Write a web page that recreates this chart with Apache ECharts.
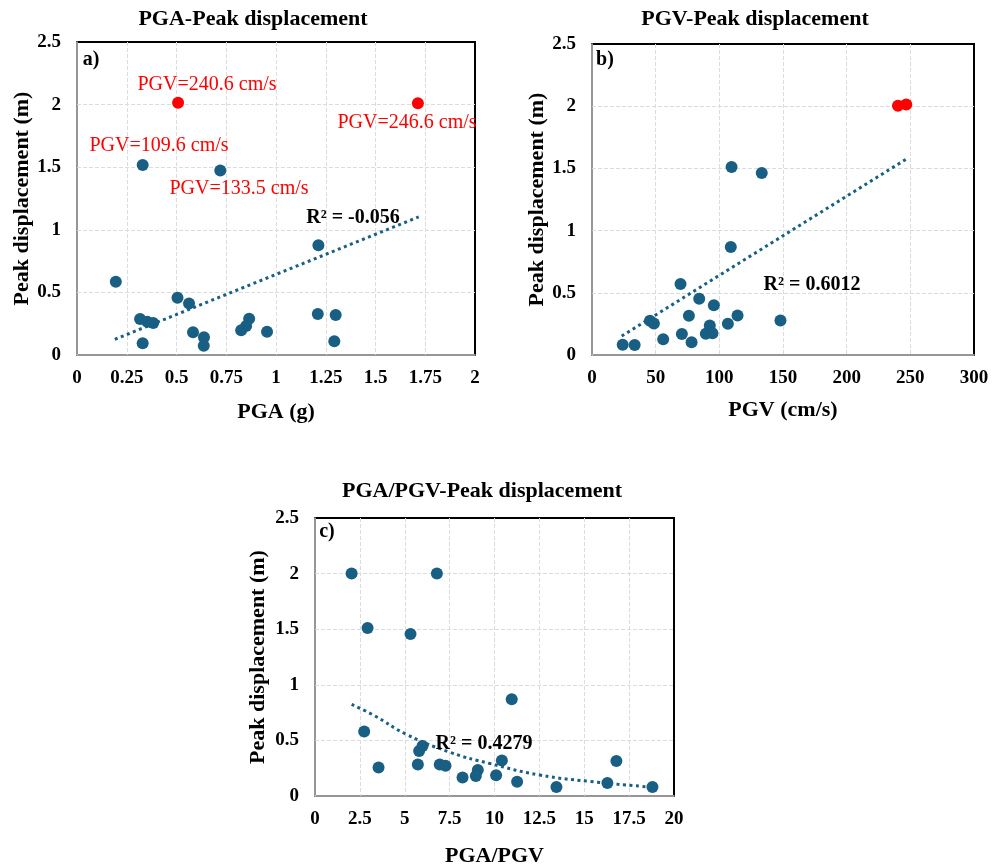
<!DOCTYPE html>
<html>
<head>
<meta charset="utf-8">
<script src="https://cdn.jsdelivr.net/npm/echarts@6/dist/echarts.min.js"></script>
<style>
  html, body { margin: 0; padding: 0; background: #fff; }
  #chart { width: 1003px; height: 868px; }
</style>
</head>
<body>
<div id="chart"></div>
<script>
// panel a: PGA vs peak displacement
var pgaBlue = [0.33, 0.72, 1.213, 0.195, 0.505, 0.563, 0.317, 0.353, 0.383, 0.33, 0.583, 0.638, 0.637, 0.865, 0.85, 0.825, 0.955, 1.21, 1.30, 1.293];
var dispPgaBlue = [1.518, 1.473, 0.877, 0.585, 0.457, 0.412, 0.287, 0.266, 0.255, 0.093, 0.181, 0.141, 0.074, 0.29, 0.231, 0.197, 0.186, 0.327, 0.319, 0.109];
var pgaRed = [0.508, 1.713];
var dispPgaRed = [2.015, 2.01];
var trendPgaX = [0.19, 1.717];
var trendPgaY = [0.125, 1.103];

// panel b: PGV vs peak displacement
var pgvBlue = [109.6, 133.3, 109, 69.5, 84.2, 95.7, 76.1, 114.3, 148, 45.5, 48.6, 106.7, 92.5, 89.4, 94.6, 70.6, 55.9, 78.2, 24.1, 33.5];
var dispPgvBlue = [1.511, 1.463, 0.869, 0.57, 0.452, 0.399, 0.316, 0.318, 0.278, 0.276, 0.254, 0.251, 0.238, 0.171, 0.174, 0.169, 0.126, 0.102, 0.083, 0.08];
var pgvRed = [240.3, 246.8];
var dispPgvRed = [2.004, 2.014];
var trendPgvX = [23.3, 247.3];
var trendPgvY = [0.152, 1.578];

// panel c: PGA/PGV vs peak displacement
var ratio = [2.04, 6.79, 2.93, 5.32, 10.96, 2.74, 5.99, 5.8, 3.54, 5.73, 6.95, 7.27, 10.41, 16.79, 8.22, 9.07, 8.96, 10.09, 11.26, 13.45, 16.29, 18.8];
var dispRatio = [2.0, 2.0, 1.511, 1.456, 0.87, 0.581, 0.449, 0.405, 0.257, 0.283, 0.283, 0.271, 0.32, 0.315, 0.166, 0.233, 0.18, 0.186, 0.128, 0.081, 0.116, 0.081];
var trendRatioX = [2.04, 3.24, 5.1, 7.51, 9.74, 12.52, 15.31, 18.65];
var trendRatioY = [0.823, 0.729, 0.554, 0.394, 0.292, 0.189, 0.131, 0.081];

var titles = ['PGA-Peak displacement', 'PGV-Peak displacement', 'PGA/PGV-Peak displacement'];
var xNames = ['PGA (g)', 'PGV (cm/s)', 'PGA/PGV'];
var yName = 'Peak displacement (m)';
var r2Labels = ['R² = -0.056', 'R² = 0.6012', 'R² = 0.4279'];
var pgvNotes = ['PGV=240.6 cm/s', 'PGV=246.6 cm/s', 'PGV=109.6 cm/s', 'PGV=133.5 cm/s'];

function pairs(xs, ys) {
    var out = [];
    for (var i = 0; i < xs.length; i++) out.push([xs[i], ys[i]]);
    return out;
}

var FONT = '"Times New Roman", "Liberation Serif", serif';
var BLUE = '#195e83';
var RED = '#ff0000';

var chart = echarts.init(document.getElementById('chart'));

function xAxisOf(idx, max, interval, gap) {
    return {
        type: 'value', gridIndex: idx, min: 0, max: max, interval: interval,
        name: xNames[idx], nameLocation: 'middle', nameGap: gap,
        nameTextStyle: { fontFamily: FONT, fontWeight: 'bold', fontSize: 22, color: '#000' },
        axisLine: { show: true, lineStyle: { color: '#c8c8c8', width: 1.5 } },
        axisTick: { show: false },
        axisLabel: { fontFamily: FONT, fontWeight: 'bold', fontSize: 19, color: '#000', margin: 14 },
        splitLine: { show: true, showMinLine: false, showMaxLine: false,
                     lineStyle: { type: 'dashed', color: '#dcdcdc' } }
    };
}
function yAxisOf(idx, gap) {
    return {
        type: 'value', gridIndex: idx, min: 0, max: 2.5, interval: 0.5,
        name: yName, nameLocation: 'middle', nameGap: gap,
        nameTextStyle: { fontFamily: FONT, fontWeight: 'bold', fontSize: 22, color: '#000' },
        axisLine: { show: true, lineStyle: { color: '#c8c8c8', width: 1.5 } },
        axisTick: { show: false },
        axisLabel: { fontFamily: FONT, fontWeight: 'bold', fontSize: 19, color: '#000', margin: 16 },
        splitLine: { show: true, showMinLine: false, showMaxLine: false,
                     lineStyle: { type: 'dashed', color: '#dcdcdc' } }
    };
}
function scatterOf(idx, data, color) {
    return {
        type: 'scatter', xAxisIndex: idx, yAxisIndex: idx, data: data,
        symbolSize: 12, itemStyle: { color: color, opacity: 1 }, z: 3, silent: true
    };
}
function trendOf(idx, data, smooth) {
    return {
        type: 'line', xAxisIndex: idx, yAxisIndex: idx, data: data, smooth: smooth,
        showSymbol: false, symbol: 'none', z: 2, silent: true,
        lineStyle: { color: BLUE, width: 3, type: [3, 3.5] }
    };
}
function textOf(x, y, text, color, bold) {
    return {
        type: 'text', x: x, y: y, z: 10,
        style: {
            text: text, fill: color, fontFamily: FONT, fontSize: 20,
            fontWeight: bold ? 'bold' : 'normal', align: 'center', verticalAlign: 'middle'
        }
    };
}
function titleOf(i, left, top) {
    return {
        text: titles[i], left: left, top: top, textAlign: 'center', padding: 0,
        textStyle: { fontFamily: FONT, fontWeight: 'bold', fontSize: 22, color: '#000' }
    };
}

var option = {
    backgroundColor: '#fff',
    animation: false,
    title: [titleOf(0, 253, 8), titleOf(1, 755, 8), titleOf(2, 482, 480)],
    grid: [
        { left: 77, right: 528, top: 42, bottom: 513, show: true, borderColor: '#000', borderWidth: 2 },
        { left: 592, right: 29, top: 44, bottom: 513, show: true, borderColor: '#000', borderWidth: 2 },
        { left: 315, right: 329, top: 518, bottom: 65, show: true, borderColor: '#000', borderWidth: 2 }
    ],
    xAxis: [xAxisOf(0, 2, 0.25, 46), xAxisOf(1, 300, 50, 44), xAxisOf(2, 20, 2.5, 49)],
    yAxis: [yAxisOf(0, 43), yAxisOf(1, 42), yAxisOf(2, 46)],
    series: [
        trendOf(0, pairs(trendPgaX, trendPgaY), false),
        scatterOf(0, pairs(pgaBlue, dispPgaBlue), BLUE),
        scatterOf(0, pairs(pgaRed, dispPgaRed), RED),
        trendOf(1, pairs(trendPgvX, trendPgvY), false),
        scatterOf(1, pairs(pgvBlue, dispPgvBlue), BLUE),
        scatterOf(1, pairs(pgvRed, dispPgvRed), RED),
        trendOf(2, pairs(trendRatioX, trendRatioY), true),
        scatterOf(2, pairs(ratio, dispRatio), BLUE)
    ],
    graphic: [
        textOf(91, 60, 'a)', '#000', true),
        textOf(605, 60, 'b)', '#000', true),
        textOf(327, 532, 'c)', '#000', true),
        textOf(353, 218, r2Labels[0], '#000', true),
        textOf(812, 285, r2Labels[1], '#000', true),
        textOf(484, 744, r2Labels[2], '#000', true),
        textOf(207, 85, pgvNotes[0], RED, false),
        textOf(407, 123, pgvNotes[1], RED, false),
        textOf(159, 146, pgvNotes[2], RED, false),
        textOf(239, 189, pgvNotes[3], RED, false)
    ]
};

chart.setOption(option);
</script>
</body>
</html>
